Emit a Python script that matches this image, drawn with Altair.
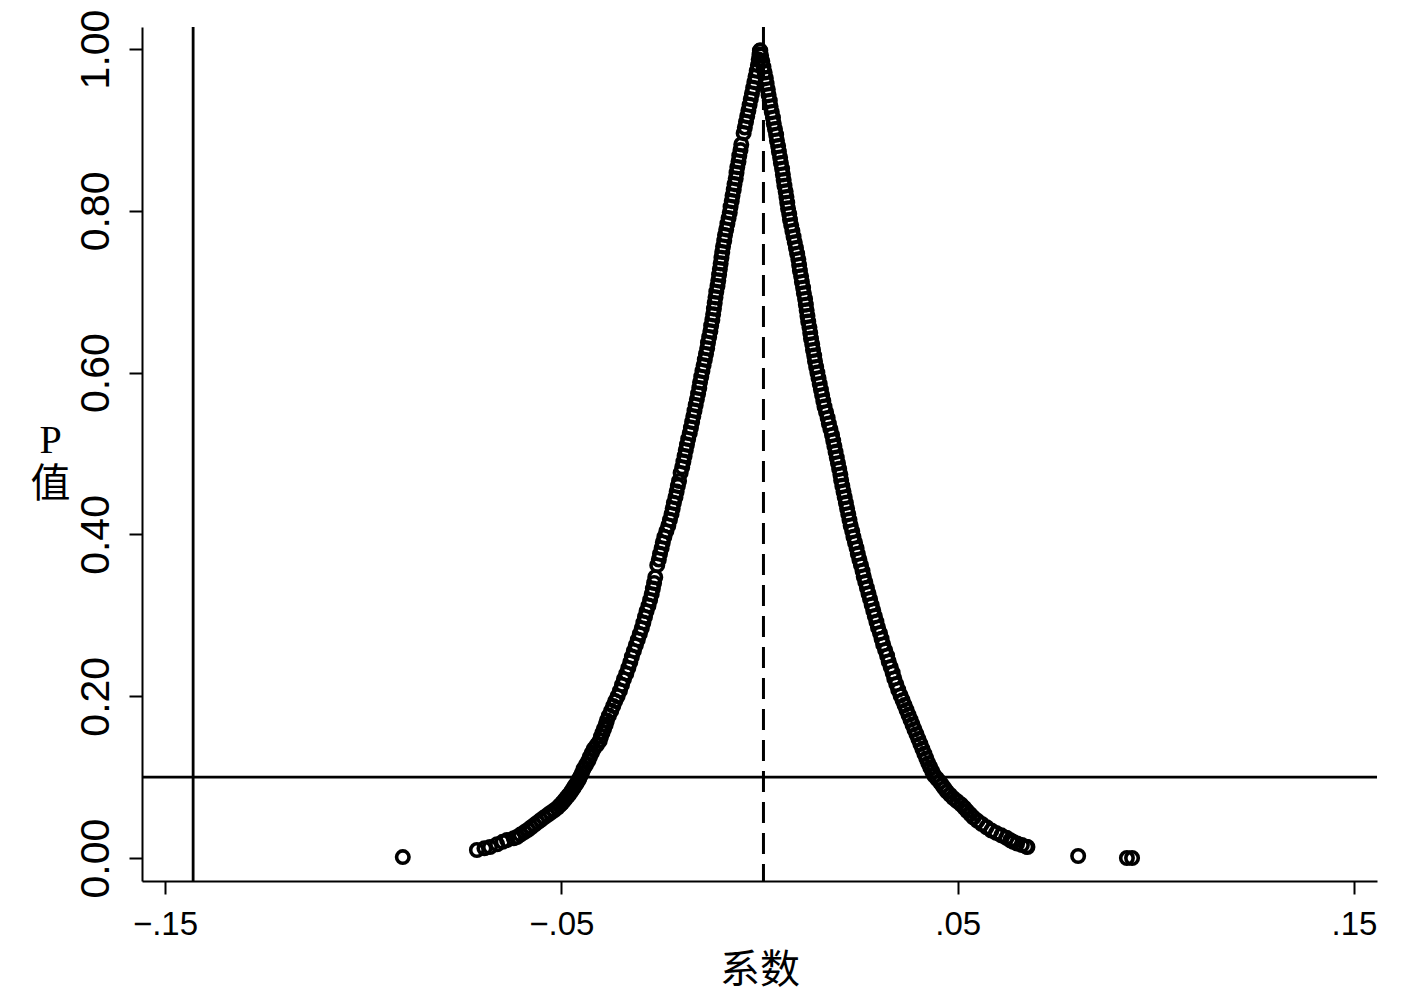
import altair as alt
import pandas as pd

# ---- data ----
coef_left = [-0.0900, -0.0713, -0.0694, -0.0680, -0.0662, -0.0648, -0.0637, -0.0620, -0.0612, -0.0603,
             -0.0593, -0.0584, -0.0576, -0.0568, -0.0560, -0.0552, -0.0544, -0.0535, -0.0527, -0.0518,
             -0.0510, -0.0504, -0.0498, -0.0493, -0.0488, -0.0483, -0.0478, -0.0474, -0.0470, -0.0466,
             -0.0462, -0.0458, -0.0455, -0.0452, -0.0448, -0.0444, -0.0438, -0.0432, -0.0428, -0.0423,
             -0.0418, -0.0410, -0.0403, -0.0400, -0.0396, -0.0392, -0.0388, -0.0385, -0.0380, -0.0374,
             -0.0369, -0.0364, -0.0358, -0.0352, -0.0347, -0.0342, -0.0336, -0.0331, -0.0326, -0.0322,
             -0.0317, -0.0312, -0.0307, -0.0302, -0.0297, -0.0293, -0.0289, -0.0285, -0.0280, -0.0276,
             -0.0272, -0.0269, -0.0266, -0.0263, -0.0258, -0.0254, -0.0251, -0.0247, -0.0244, -0.0240,
             -0.0235, -0.0230, -0.0226, -0.0222, -0.0219, -0.0216, -0.0212, -0.0209, -0.0206, -0.0203,
             -0.0199, -0.0195, -0.0192, -0.0189, -0.0186, -0.0183, -0.0180, -0.0176, -0.0173, -0.0170,
             -0.0167, -0.0164, -0.0161, -0.0158, -0.0155, -0.0152, -0.0150, -0.0147, -0.0144, -0.0141,
             -0.0138, -0.0135, -0.0132, -0.0130, -0.0127, -0.0124, -0.0122, -0.0119, -0.0117, -0.0115,
             -0.0113, -0.0111, -0.0109, -0.0106, -0.0104, -0.0102, -0.0100, -0.0098, -0.0096, -0.0094,
             -0.0092, -0.0089, -0.0087, -0.0084, -0.0081, -0.0078, -0.0075, -0.0073, -0.0070, -0.0068,
             -0.0065, -0.0063, -0.0060, -0.0058, -0.0056, -0.0053, -0.0051, -0.0048, -0.0046, -0.0040,
             -0.0037, -0.0034, -0.0031, -0.0028, -0.0025, -0.0022, -0.0019, -0.0016, -0.0013, -0.0010,
             -0.0007, -0.0004, -0.0002, 0.0000, 0.0001]
p_left = [0.0012, 0.0099, 0.0120, 0.0136, 0.0170, 0.0200, 0.0222, 0.0245, 0.0260, 0.0290,
          0.0320, 0.0350, 0.0380, 0.0410, 0.0440, 0.0470, 0.0500, 0.0530, 0.0560, 0.0590,
          0.0620, 0.0650, 0.0680, 0.0710, 0.0740, 0.0770, 0.0800, 0.0830, 0.0860, 0.0890,
          0.0920, 0.0950, 0.0980, 0.1010, 0.1050, 0.1100, 0.1150, 0.1200, 0.1250, 0.1300,
          0.1350, 0.1400, 0.1450, 0.1500, 0.1550, 0.1600, 0.1650, 0.1700, 0.1760, 0.1820,
          0.1880, 0.1940, 0.2000, 0.2070, 0.2140, 0.2210, 0.2280, 0.2350, 0.2420, 0.2490,
          0.2560, 0.2630, 0.2700, 0.2770, 0.2840, 0.2910, 0.2980, 0.3050, 0.3120, 0.3190,
          0.3260, 0.3330, 0.3400, 0.3470, 0.3620, 0.3690, 0.3760, 0.3830, 0.3900, 0.3970,
          0.4040, 0.4110, 0.4180, 0.4250, 0.4320, 0.4390, 0.4460, 0.4530, 0.4600, 0.4660,
          0.4760, 0.4830, 0.4900, 0.4970, 0.5040, 0.5110, 0.5180, 0.5250, 0.5320, 0.5390,
          0.5460, 0.5530, 0.5600, 0.5670, 0.5740, 0.5810, 0.5880, 0.5950, 0.6020, 0.6090,
          0.6160, 0.6230, 0.6300, 0.6370, 0.6440, 0.6510, 0.6580, 0.6650, 0.6720, 0.6790,
          0.6860, 0.6930, 0.7000, 0.7070, 0.7140, 0.7210, 0.7280, 0.7350, 0.7420, 0.7490,
          0.7560, 0.7630, 0.7700, 0.7770, 0.7840, 0.7910, 0.7980, 0.8050, 0.8120, 0.8190,
          0.8260, 0.8330, 0.8400, 0.8470, 0.8540, 0.8610, 0.8680, 0.8750, 0.8820, 0.8960,
          0.9030, 0.9100, 0.9170, 0.9240, 0.9310, 0.9380, 0.9450, 0.9520, 0.9590, 0.9660,
          0.9730, 0.9800, 0.9870, 0.9930, 0.9980]

coef_right = [0.0002, 0.0004, 0.0007, 0.0010, 0.0013, 0.0016, 0.0018, 0.0021, 0.0023, 0.0026,
              0.0028, 0.0031, 0.0034, 0.0036, 0.0039, 0.0042, 0.0044, 0.0047, 0.0049, 0.0052,
              0.0054, 0.0057, 0.0059, 0.0061, 0.0063, 0.0066, 0.0068, 0.0070, 0.0072, 0.0075,
              0.0077, 0.0080, 0.0083, 0.0086, 0.0089, 0.0092, 0.0095, 0.0098, 0.0100, 0.0102,
              0.0105, 0.0107, 0.0110, 0.0112, 0.0115, 0.0117, 0.0119, 0.0121, 0.0123, 0.0126,
              0.0128, 0.0130, 0.0133, 0.0135, 0.0138, 0.0140, 0.0143, 0.0146, 0.0149, 0.0152,
              0.0155, 0.0158, 0.0161, 0.0164, 0.0168, 0.0172, 0.0175, 0.0179, 0.0183, 0.0186,
              0.0189, 0.0192, 0.0195, 0.0198, 0.0201, 0.0204, 0.0206, 0.0209, 0.0212, 0.0215,
              0.0218, 0.0221, 0.0224, 0.0227, 0.0230, 0.0234, 0.0237, 0.0241, 0.0245, 0.0248,
              0.0252, 0.0256, 0.0260, 0.0263, 0.0267, 0.0271, 0.0275, 0.0279, 0.0283, 0.0287,
              0.0291, 0.0295, 0.0299, 0.0304, 0.0308, 0.0312, 0.0317, 0.0322, 0.0326, 0.0331,
              0.0336, 0.0340, 0.0345, 0.0350, 0.0356, 0.0361, 0.0366, 0.0371, 0.0376, 0.0381,
              0.0386, 0.0391, 0.0396, 0.0401, 0.0406, 0.0411, 0.0416, 0.0421, 0.0426, 0.0431,
              0.0436, 0.0441, 0.0448, 0.0455, 0.0461, 0.0467, 0.0473, 0.0481, 0.0489, 0.0499,
              0.0509, 0.0517, 0.0524, 0.0532, 0.0540, 0.0550, 0.0561, 0.0573, 0.0585, 0.0597,
              0.0610, 0.0623, 0.0633, 0.0640, 0.0650, 0.0662, 0.0673, 0.0676, 0.0804, 0.0927,
              0.0940]
p_right = [0.9980, 0.9920, 0.9850, 0.9780, 0.9710, 0.9640, 0.9570, 0.9500, 0.9430, 0.9360,
           0.9290, 0.9220, 0.9150, 0.9080, 0.9010, 0.8940, 0.8870, 0.8800, 0.8730, 0.8660,
           0.8590, 0.8520, 0.8450, 0.8380, 0.8310, 0.8240, 0.8170, 0.8100, 0.8030, 0.7960,
           0.7890, 0.7820, 0.7750, 0.7680, 0.7610, 0.7540, 0.7470, 0.7400, 0.7330, 0.7260,
           0.7190, 0.7120, 0.7050, 0.6980, 0.6910, 0.6840, 0.6770, 0.6700, 0.6630, 0.6560,
           0.6490, 0.6420, 0.6350, 0.6280, 0.6210, 0.6140, 0.6070, 0.6000, 0.5930, 0.5860,
           0.5790, 0.5720, 0.5650, 0.5580, 0.5510, 0.5440, 0.5370, 0.5300, 0.5230, 0.5160,
           0.5090, 0.5020, 0.4950, 0.4880, 0.4810, 0.4740, 0.4670, 0.4600, 0.4530, 0.4460,
           0.4390, 0.4320, 0.4250, 0.4180, 0.4110, 0.4040, 0.3970, 0.3900, 0.3830, 0.3760,
           0.3690, 0.3620, 0.3550, 0.3480, 0.3410, 0.3340, 0.3270, 0.3200, 0.3130, 0.3060,
           0.2990, 0.2920, 0.2850, 0.2780, 0.2710, 0.2640, 0.2570, 0.2500, 0.2430, 0.2360,
           0.2290, 0.2220, 0.2150, 0.2080, 0.2010, 0.1950, 0.1890, 0.1830, 0.1770, 0.1710,
           0.1650, 0.1590, 0.1530, 0.1470, 0.1410, 0.1350, 0.1290, 0.1230, 0.1170, 0.1120,
           0.1070, 0.1020, 0.0980, 0.0940, 0.0900, 0.0860, 0.0820, 0.0780, 0.0740, 0.0700,
           0.0660, 0.0620, 0.0580, 0.0540, 0.0500, 0.0460, 0.0420, 0.0380, 0.0340, 0.0310,
           0.0280, 0.0250, 0.0220, 0.0200, 0.0180, 0.0160, 0.0140, 0.0136, 0.0025, 0.0000,
           0.0000]

# reference lines
vline_solid = [-0.1429]
vline_dashed = [0.0010]
hline_p = [0.10]

x_ticks = [-0.15, -0.05, 0.05, 0.15]
y_ticks = [0.0, 0.2, 0.4, 0.6, 0.8, 1.0]

pts = pd.DataFrame({"coef": coef_left + coef_right, "p": p_left + p_right})

X = alt.X(
    "coef:Q",
    scale=alt.Scale(domain=[-0.1558, 0.1558], nice=False, zero=False),
    axis=alt.Axis(
        values=x_ticks,
        labelExpr="replace(format(datum.value, '.2f'), '0.', '.')",
        title="系数",
    ),
)
Y = alt.Y(
    "p:Q",
    scale=alt.Scale(domain=[-0.0284, 1.0272], nice=False, zero=False),
    axis=alt.Axis(
        values=y_ticks,
        format=".2f",
        labelAngle=-90,
        title=["P", "值"],
        titleAngle=0,
        titleAlign="center",
        titleBaseline="middle",
        titleX=-92,
        titleY=413,
        titleLineHeight=44,
    ),
)

points = alt.Chart(pts).mark_point(
    shape="circle", filled=False, size=155, strokeWidth=3.6, color="black", opacity=1
).encode(x=X, y=Y)

vsolid = alt.Chart(pd.DataFrame({"coef": vline_solid})).mark_rule(
    color="black", strokeWidth=2.8
).encode(x=X)

vdash = alt.Chart(pd.DataFrame({"coef": vline_dashed})).mark_rule(
    color="black", strokeWidth=3, strokeDash=[21, 10]
).encode(x=X)

hrule = alt.Chart(pd.DataFrame({"p": hline_p})).mark_rule(
    color="black", strokeWidth=2.7
).encode(y=Y)

chart = (
    alt.layer(vsolid, hrule, vdash, points)
    .properties(
        width=1235,
        height=854,
        autosize=alt.AutoSizeParams(type="none"),
        padding={"left": 134, "top": 19, "right": 20, "bottom": 116},
        background="white",
    )
    .configure_view(stroke=None)
    .configure_axis(
        grid=False,
        domainColor="black",
        domainWidth=2,
        tickColor="black",
        tickWidth=2,
        tickSize=13,
        labelColor="black",
        labelFont="Liberation Sans",
        titleColor="black",
        titleFont="Liberation Serif, Noto Sans CJK SC",
        titleFontWeight="normal",
        titleFontSize=40,
    )
    .configure_axisX(labelFontSize=33, labelPadding=14, titlePadding=9)
    .configure_axisY(labelFontSize=41, labelPadding=12)
)

chart.save("out.html", embed_options={"renderer": "svg", "actions": False})
